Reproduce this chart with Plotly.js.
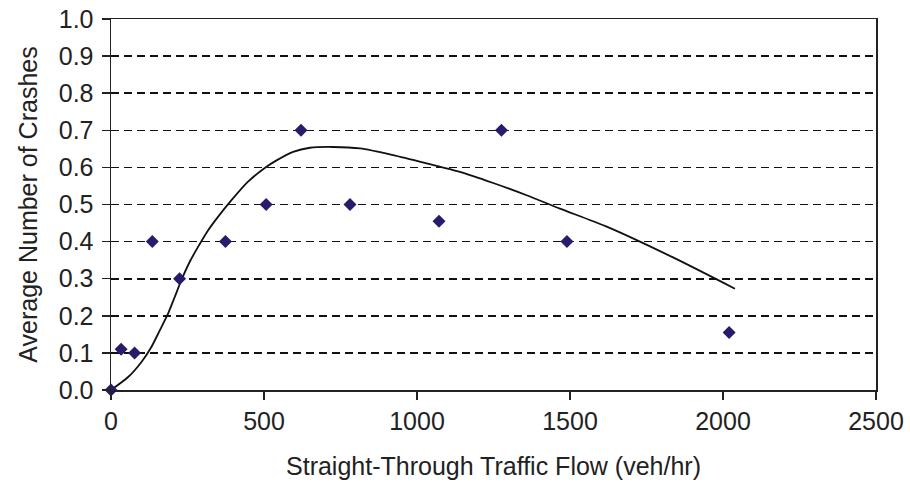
<!DOCTYPE html>
<html>
<head>
<meta charset="utf-8">
<script src="https://cdn.plot.ly/plotly-3.0.1.min.js"></script>
<style>html,body{margin:0;padding:0;background:#fff;}#chart{width:910px;height:489px;}</style>
</head>
<body>
<div id="chart"></div>
<script>
// Observed data (diamonds)
const flowX = [0, 33, 77, 135, 224, 374, 507, 621, 781, 1072, 1276, 1490, 2020];
const crashesY = [0, 0.11, 0.10, 0.40, 0.30, 0.40, 0.50, 0.70, 0.50, 0.455, 0.70, 0.40, 0.155];

// Fitted curve
const curveX = [0, 56, 99, 132, 159, 186, 208, 230, 257, 284, 317, 349, 393, 447, 507, 541, 595, 650, 726, 814, 922, 1031, 1140, 1249, 1358, 1467, 1618, 1835, 2039];
const curveY = [0, 0.035, 0.075, 0.116, 0.160, 0.205, 0.250, 0.296, 0.345, 0.385, 0.430, 0.466, 0.511, 0.561, 0.601, 0.619, 0.642, 0.653, 0.655, 0.651, 0.633, 0.611, 0.588, 0.558, 0.525, 0.489, 0.441, 0.358, 0.273];

const xTickVals = [0, 500, 1000, 1500, 2000, 2500];
const yTickVals = [0, 0.1, 0.2, 0.3, 0.4, 0.5, 0.6, 0.7, 0.8, 0.9, 1.0];

const FONT = '"Liberation Sans", Arial, sans-serif';

const traces = [
  {
    x: curveX, y: curveY, type: 'scatter', mode: 'lines',
    line: {color: '#111111', width: 1.8, shape: 'spline', smoothing: 0.7},
    hoverinfo: 'skip', showlegend: false
  },
  {
    x: flowX, y: crashesY, type: 'scatter', mode: 'markers',
    marker: {symbol: 'diamond', size: 10, color: '#2a1a6c'},
    cliponaxis: false, showlegend: false
  }
];

const layout = {
  width: 910, height: 489,
  margin: {l: 111, r: 34, t: 19, b: 99},
  paper_bgcolor: '#ffffff', plot_bgcolor: '#ffffff',
  font: {family: FONT, size: 25, color: '#222222'},
  showlegend: false,
  xaxis: {
    range: [0, 2500], tickvals: xTickVals, ticktext: xTickVals.map(String),
    showgrid: false, zeroline: false,
    showline: true, linecolor: '#222222', linewidth: 1.5, mirror: true,
    ticks: 'outside', ticklen: 8, tickwidth: 1.5, tickcolor: '#222222',
    tickfont: {family: FONT, size: 25, color: '#222222'},
    title: {text: 'Straight-Through Traffic Flow (veh/hr)', font: {family: FONT, size: 25, color: '#222222'}, standoff: 24}
  },
  yaxis: {
    range: [0, 1.0], tickvals: yTickVals, tickformat: '.1f',
    showgrid: true, gridcolor: '#111111', gridwidth: 1.6, griddash: '8px,5px',
    zeroline: false,
    showline: true, linecolor: '#222222', linewidth: 1.5, mirror: true,
    ticks: 'outside', ticklen: 8, tickwidth: 1.5, tickcolor: '#222222',
    tickfont: {family: FONT, size: 25, color: '#222222'},
    ticklabelstandoff: 3,
    title: {text: 'Average Number of Crashes', font: {family: FONT, size: 25, color: '#222222'}, standoff: 14}
  }
};

Plotly.newPlot('chart', traces, layout, {staticPlot: true, displayModeBar: false});
</script>
</body>
</html>
